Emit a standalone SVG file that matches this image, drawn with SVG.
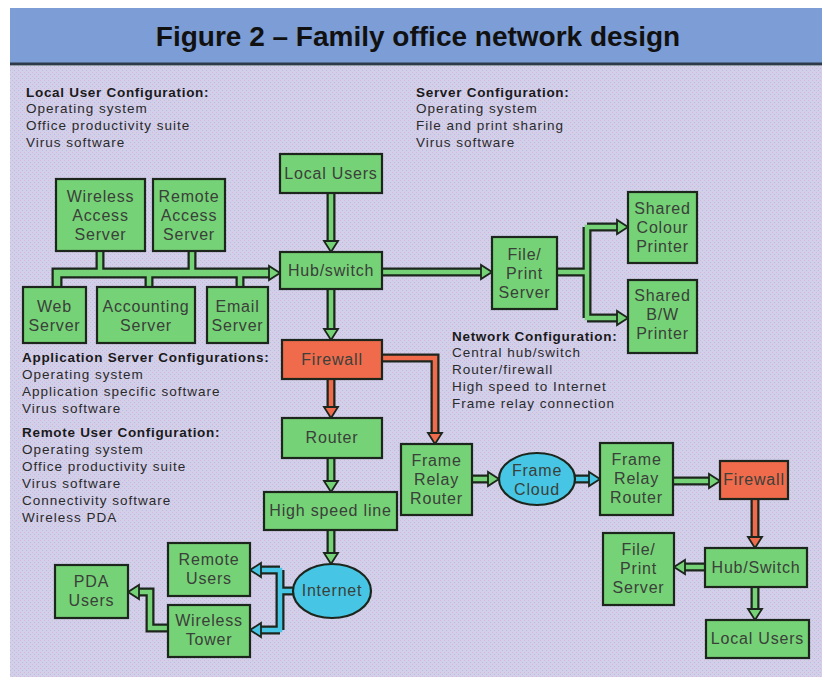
<svg xmlns="http://www.w3.org/2000/svg" width="825" height="684" viewBox="0 0 825 684">
<style>
.tb{fill:#7c9dd6}
.title{font:bold 28px "Liberation Sans",Arial,sans-serif;fill:#111;text-anchor:middle}
.hd{font:bold 13.5px "Liberation Sans",Arial,sans-serif;fill:#1a1a1a;letter-spacing:0.7px}
.ln{font:13.5px "Liberation Sans",Arial,sans-serif;fill:#2a2a2a;letter-spacing:1px}
.box{stroke:#1c261c;stroke-width:2.2}
.g{fill:#76d276}
.r{fill:#f06b4c}
.c{fill:#46c6e4}
.nt{font:16px "Liberation Sans",Arial,sans-serif;fill:#3a403a;text-anchor:middle;letter-spacing:0.8px}
.po{fill:none;stroke:#1c261c;stroke-width:9;stroke-linejoin:miter;stroke-linecap:butt}
.pbus{stroke-width:11}
.pi{fill:none;stroke-width:4.5;stroke-linejoin:miter;stroke-linecap:square}
.pib{stroke-width:6.5}
.pg{stroke:#76d276}
.pr{stroke:#f06b4c}
.pc{stroke:#46c6e4}
.hg{fill:#76d276;stroke:#1c261c;stroke-width:1.8;stroke-linejoin:miter}
.hr{fill:#f06b4c;stroke:#1c261c;stroke-width:1.8}
.hc{fill:#46c6e4;stroke:#1c261c;stroke-width:1.8}
</style>
<defs>
<pattern id="dots" width="4" height="4" patternUnits="userSpaceOnUse">
<rect width="4" height="4" fill="#d2cfe9"/>
<rect x="0" y="0" width="1" height="1" fill="#dbb4de"/>
<rect x="2" y="2" width="1" height="1" fill="#bdbbe4"/>
</pattern>
</defs>
<rect x="0" y="0" width="825" height="684" fill="#ffffff"/>
<rect x="10" y="66" width="812" height="611" fill="url(#dots)"/>
<rect class="tb" x="10" y="8" width="812" height="56"/>
<line x1="10" y1="64" x2="822" y2="64" stroke="#2e3a4a" stroke-width="3"/>
<text class="title" x="418" y="46">Figure 2 – Family office network design</text>

<g id="notes">
<text class="hd" x="26" y="97">Local User Configuration:</text>
<text class="ln" x="26" y="113">Operating system</text>
<text class="ln" x="26" y="130">Office productivity suite</text>
<text class="ln" x="26" y="147">Virus software</text>
<text class="hd" x="416" y="97">Server Configuration:</text>
<text class="ln" x="416" y="113">Operating system</text>
<text class="ln" x="416" y="130">File and print sharing</text>
<text class="ln" x="416" y="147">Virus software</text>
<text class="hd" x="452" y="341">Network Configuration:</text>
<text class="ln" x="452" y="357">Central hub/switch</text>
<text class="ln" x="452" y="374">Router/firewall</text>
<text class="ln" x="452" y="391">High speed to Internet</text>
<text class="ln" x="452" y="408">Frame relay connection</text>
<text class="hd" x="22" y="362">Application Server Configurations:</text>
<text class="ln" x="22" y="379">Operating system</text>
<text class="ln" x="22" y="396">Application specific software</text>
<text class="ln" x="22" y="413">Virus software</text>
<text class="hd" x="22" y="437">Remote User Configuration:</text>
<text class="ln" x="22" y="454">Operating system</text>
<text class="ln" x="22" y="471">Office productivity suite</text>
<text class="ln" x="22" y="488">Virus software</text>
<text class="ln" x="22" y="505">Connectivity software</text>
<text class="ln" x="22" y="522">Wireless PDA</text>
</g>

<g id="connectors">
<g id="outlines">
<path class="po" d="M331,193 V243"/>
<path class="po" d="M331,289 V331"/>
<path class="po pbus" d="M57,287 V273 H271"/>
<path class="po" d="M100,251 V273 M192,251 V273 M149,273 V287 M240,273 V287"/>
<path class="po" d="M382,272 H483"/>
<path class="po" d="M557,272 H587 M587,227 V318 M587,227 H619 M587,318 H619"/>
<path class="po" d="M331,379 V409"/>
<path class="po" d="M382,358 H435 V435"/>
<path class="po" d="M331,458 V483"/>
<path class="po" d="M331,530 V555"/>
<path class="po" d="M294,591 H280 M280,570 V630 M280,570 H259 M280,630 H259"/>
<path class="po" d="M168,628 H150 V592 H137"/>
<path class="po" d="M472,479 H490"/>
<path class="po" d="M575,479 H591"/>
<path class="po" d="M673,481 H711"/>
<path class="po" d="M755,499 V539"/>
<path class="po" d="M705,567 H683"/>
<path class="po" d="M755,587 V611"/>
</g>
<g id="fills">
<path class="pi pg" d="M331,195 V243"/>
<path class="pi pg" d="M331,291 V331"/>
<path class="pi pib pg" d="M57,285 V273 H271"/>
<path class="pi pg" d="M100,253 V273 M192,253 V273 M149,273 V285 M240,273 V285"/>
<path class="pi pg" d="M384,272 H483"/>
<path class="pi pg" d="M559,272 H587 M587,227 V318 M587,227 H619 M587,318 H619"/>
<path class="pi pr" d="M331,381 V409"/>
<path class="pi pr" d="M384,358 H435 V435"/>
<path class="pi pg" d="M331,460 V483"/>
<path class="pi pg" d="M331,532 V555"/>
<path class="pi pc" d="M292,591 H280 M280,570 V630 M280,570 H259 M280,630 H259"/>
<path class="pi pg" d="M166,628 H150 V592 H137"/>
<path class="pi pg" d="M474,479 H490"/>
<path class="pi pc" d="M577,479 H591"/>
<path class="pi pg" d="M675,481 H711"/>
<path class="pi pr" d="M755,501 V539"/>
<path class="pi pg" d="M703,567 H683"/>
<path class="pi pg" d="M755,589 V611"/>
</g>
<g id="heads">
<polygon class="hg" points="324,241 338,241 331,252"/>
<polygon class="hg" points="324,329 338,329 331,340"/>
<polygon class="hg" points="269,266 269,280 280,273"/>
<polygon class="hg" points="481,265 481,279 492,272"/>
<polygon class="hg" points="617,220 617,234 628,227"/>
<polygon class="hg" points="617,311 617,325 628,318"/>
<polygon class="hr" points="324,407 338,407 331,418"/>
<polygon class="hr" points="428,433 442,433 435,444"/>
<polygon class="hg" points="324,481 338,481 331,492"/>
<polygon class="hg" points="324,553 338,553 331,564"/>
<polygon class="hc" points="261,563 261,577 250,570"/>
<polygon class="hc" points="261,623 261,637 250,630"/>
<polygon class="hg" points="139,585 139,599 128,592"/>
<polygon class="hg" points="488,472 488,486 499,479"/>
<polygon class="hc" points="589,472 589,486 600,479"/>
<polygon class="hg" points="709,474 709,488 720,481"/>
<polygon class="hr" points="748,537 762,537 755,548"/>
<polygon class="hg" points="685,560 685,574 674,567"/>
<polygon class="hg" points="748,609 762,609 755,620"/>
</g>
</g>

<g id="n-wireless-access"><rect class="box g" x="56" y="179" width="89" height="72"/><text class="nt" x="100.5" y="202">Wireless</text><text class="nt" x="100.5" y="221">Access</text><text class="nt" x="100.5" y="240">Server</text></g>
<g id="n-remote-access"><rect class="box g" x="153" y="179" width="72" height="72"/><text class="nt" x="189" y="202">Remote</text><text class="nt" x="189" y="221">Access</text><text class="nt" x="189" y="240">Server</text></g>
<g id="n-web"><rect class="box g" x="23" y="287" width="63" height="56"/><text class="nt" x="54.5" y="312">Web</text><text class="nt" x="54.5" y="331">Server</text></g>
<g id="n-accounting"><rect class="box g" x="97" y="287" width="98" height="56"/><text class="nt" x="146" y="312">Accounting</text><text class="nt" x="146" y="331">Server</text></g>
<g id="n-email"><rect class="box g" x="207" y="287" width="61" height="56"/><text class="nt" x="237.5" y="312">Email</text><text class="nt" x="237.5" y="331">Server</text></g>
<g id="n-local-users"><rect class="box g" x="280" y="154" width="102" height="39"/><text class="nt" x="331" y="179">Local Users</text></g>
<g id="n-hub"><rect class="box g" x="280" y="252" width="102" height="37"/><text class="nt" x="331" y="276">Hub/switch</text></g>
<g id="n-fileprint"><rect class="box g" x="492" y="237" width="65" height="72"/><text class="nt" x="524.5" y="260">File/</text><text class="nt" x="524.5" y="279">Print</text><text class="nt" x="524.5" y="298">Server</text></g>
<g id="n-colour"><rect class="box g" x="628" y="192" width="69" height="71"/><text class="nt" x="662.5" y="214">Shared</text><text class="nt" x="662.5" y="233">Colour</text><text class="nt" x="662.5" y="252">Printer</text></g>
<g id="n-bw"><rect class="box g" x="628" y="280" width="69" height="73"/><text class="nt" x="662.5" y="301">Shared</text><text class="nt" x="662.5" y="320">B/W</text><text class="nt" x="662.5" y="339">Printer</text></g>
<g id="n-firewall"><rect class="box r" x="282" y="340" width="100" height="39"/><text class="nt" x="332" y="365">Firewall</text></g>
<g id="n-router"><rect class="box g" x="282" y="418" width="100" height="40"/><text class="nt" x="332" y="443">Router</text></g>
<g id="n-hsl"><rect class="box g" x="264" y="492" width="133" height="38"/><text class="nt" x="330.5" y="516">High speed line</text></g>
<g id="n-internet"><ellipse class="box c" cx="332" cy="591" rx="39" ry="27"/><text class="nt" x="332" y="596">Internet</text></g>
<g id="n-remote-users"><rect class="box g" x="168" y="543" width="82" height="53"/><text class="nt" x="209" y="565">Remote</text><text class="nt" x="209" y="584">Users</text></g>
<g id="n-wireless-tower"><rect class="box g" x="168" y="605" width="82" height="52"/><text class="nt" x="209" y="626">Wireless</text><text class="nt" x="209" y="645">Tower</text></g>
<g id="n-pda"><rect class="box g" x="55" y="565" width="73" height="53"/><text class="nt" x="91.5" y="587">PDA</text><text class="nt" x="91.5" y="606">Users</text></g>
<g id="n-frr1"><rect class="box g" x="401" y="444" width="71" height="71"/><text class="nt" x="436.5" y="466">Frame</text><text class="nt" x="436.5" y="485">Relay</text><text class="nt" x="436.5" y="504">Router</text></g>
<g id="n-cloud"><ellipse class="box c" cx="537" cy="479" rx="38" ry="26"/><text class="nt" x="537" y="476">Frame</text><text class="nt" x="537" y="495">Cloud</text></g>
<g id="n-frr2"><rect class="box g" x="600" y="443" width="73" height="72"/><text class="nt" x="636.5" y="465">Frame</text><text class="nt" x="636.5" y="484">Relay</text><text class="nt" x="636.5" y="503">Router</text></g>
<g id="n-firewall2"><rect class="box r" x="720" y="461" width="68" height="38"/><text class="nt" x="754" y="485">Firewall</text></g>
<g id="n-hub2"><rect class="box g" x="705" y="548" width="102" height="39"/><text class="nt" x="756" y="573">Hub/Switch</text></g>
<g id="n-fileprint2"><rect class="box g" x="603" y="533" width="71" height="72"/><text class="nt" x="638.5" y="555">File/</text><text class="nt" x="638.5" y="574">Print</text><text class="nt" x="638.5" y="593">Server</text></g>
<g id="n-local-users2"><rect class="box g" x="706" y="620" width="103" height="38"/><text class="nt" x="757.5" y="644">Local Users</text></g>
</svg>
